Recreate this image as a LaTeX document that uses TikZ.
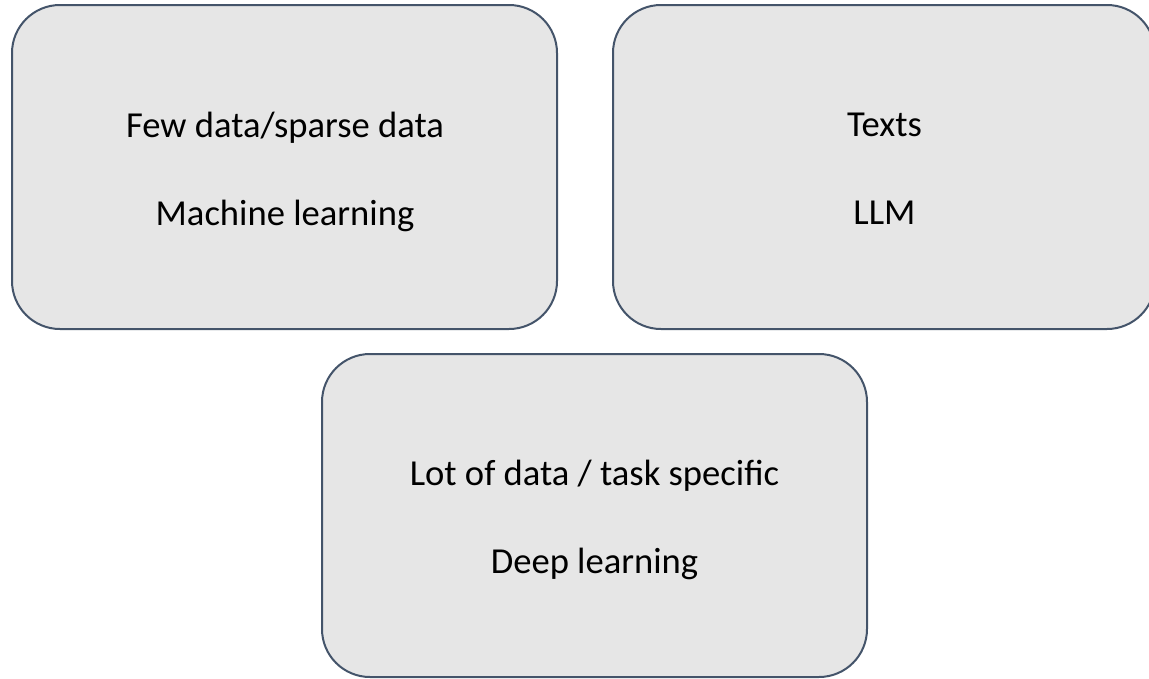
\documentclass[tikz,border=0pt]{standalone}
\usepackage{fontspec}
\setmainfont{Carlito}
\definecolor{boxfill}{HTML}{E6E6E6}
\definecolor{boxline}{HTML}{44546A}
\begin{document}
\begin{tikzpicture}[x=1pt,y=1pt,
  card/.style={draw=boxline, fill=boxfill, line width=2pt, rounded corners=48pt,
               inner sep=0pt},
  caption/.style={font=\fontsize{36.6}{40}\selectfont, text=black, inner sep=0pt, anchor=base}]
  \useasboundingbox (0,0) rectangle (1149,-678);
  \clip (0,0) rectangle (1149,-678);

  % three topic cards
  \node[card, minimum width=545pt, minimum height=324pt] (ml) at (284.5,-167) {};
  \node[card, minimum width=542pt, minimum height=324pt] (llm) at (884,-167) {};
  \node[card, minimum width=545pt, minimum height=323pt] (dl) at (594.5,-515.5) {};

  % captions (placed by baseline)
  \node[caption] (mlA) at (285,-137) {Few data/sparse data};
  \node[caption] (mlB) at (285,-225) {Machine learning};
  \node[caption] (llmA) at (884.5,-136) {Texts};
  \node[caption] (llmB) at (884.5,-224) {LLM};
  \node[caption] (dlA) at (594.5,-485) {Lot of data / task specific};
  \node[caption] (dlB) at (594.5,-573) {Deep learning};
\end{tikzpicture}
\end{document}
